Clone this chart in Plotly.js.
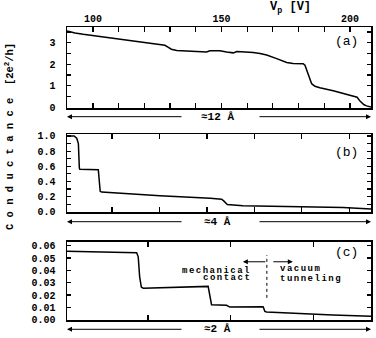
<!DOCTYPE html>
<html>
<head>
<meta charset="utf-8">
<script src="https://cdn.plot.ly/plotly-3.0.1.min.js"></script>
<style>html,body{margin:0;padding:0;background:#fff;}</style>
</head>
<body>
<div id="chart" style="width:376px;height:338px;"></div>
<script>
// Panel (a): conductance vs piezo voltage Vp [V]
const vpA = [89.9, 93, 96.2, 100, 102.7, 109.2, 115.7, 119.6, 126.1, 128.0, 129.2, 130.5, 132.6, 136.5, 141.6, 144.2, 145.5, 149.4, 152.0, 154.6, 156.0, 159.0, 162.4, 165.0, 167.6, 171.5, 175.4, 177.9, 181.8, 182.5, 183.8, 185.1, 186.4, 188.3, 193.5, 198.7, 202.8, 204.0, 205.5, 206.5, 208.2];
const gA  = [3.55, 3.45, 3.39, 3.33, 3.28, 3.18, 3.08, 3.00, 2.90, 2.88, 2.80, 2.70, 2.64, 2.62, 2.61, 2.57, 2.63, 2.63, 2.57, 2.53, 2.59, 2.58, 2.55, 2.50, 2.43, 2.26, 2.08, 2.04, 2.03, 1.96, 1.50, 1.10, 0.98, 0.91, 0.77, 0.62, 0.47, 0.28, 0.12, 0.07, 0.02];

// Panel (b): displacement (arbitrary tick units, ~4 Å full width)
const xB = [0.05, 0.20, 0.255, 0.29, 0.31, 0.32, 0.71, 0.75, 0.78, 2.01, 3.07, 3.31, 3.36, 3.43, 3.76, 5.18, 5.87, 6.46];
const gB = [1.0, 1.0, 0.97, 0.90, 0.58, 0.56, 0.555, 0.27, 0.26, 0.21, 0.18, 0.165, 0.14, 0.095, 0.08, 0.066, 0.056, 0.035];

// Panel (c): displacement (arbitrary tick units, ~2 Å full width)
const xC = [0.024, 0.864, 0.883, 0.90, 0.92, 0.943, 1.726, 1.747, 1.767, 1.948, 1.988, 2.389, 2.41, 2.43, 2.83, 3.23, 3.69];
const gC = [0.0556, 0.0543, 0.051, 0.035, 0.0264, 0.0255, 0.0270, 0.020, 0.0121, 0.0116, 0.0102, 0.0104, 0.0067, 0.0062, 0.0048, 0.0038, 0.0027];

// Text labels
const panelLabels = ['(a)', '(b)', '(c)'];
const spanLabels = ['≈12 Å', '≈4 Å', '≈2 Å'];
const yTitle = 'C o n d u c t a n c e  [2e<sup>2</sup>/h]';
const xTopTitle = 'V<sub>p</sub> [V]';

const MONO = 'Liberation Mono, DejaVu Sans Mono, monospace';
const tf = {family: MONO, size: 10, color: '#000', weight: 'bold'};
const line = {color: '#000', width: 1.5};

const traces = [
  {x: vpA, y: gA, xaxis: 'x', yaxis: 'y', mode: 'lines', line: line, hoverinfo: 'skip'},
  {x: xB, y: gB, xaxis: 'x2', yaxis: 'y2', mode: 'lines', line: line, hoverinfo: 'skip'},
  {x: xC, y: gC, xaxis: 'x3', yaxis: 'y3', mode: 'lines', line: line, hoverinfo: 'skip'}
];

function ax(extra) {
  return Object.assign({
    showline: true, linecolor: '#000', linewidth: 1.5, mirror: 'ticks',
    ticks: 'inside', tickcolor: '#000', tickwidth: 1.2,
    showgrid: false, zeroline: false, tickfont: tf, fixedrange: true
  }, extra);
}

const arrowRowY = [0.6939, 0.3355, -0.0317];
const annotations = [];
arrowRowY.forEach((yy, i) => {
  annotations.push({xref: 'paper', yref: 'paper', x: 0, y: yy, ax: 116, ay: 0, text: '', showarrow: true,
    arrowhead: 2, arrowsize: 1, arrowwidth: 1, arrowcolor: '#000'});
  annotations.push({xref: 'paper', yref: 'paper', x: 1, y: yy, ax: -113, ay: 0, text: '', showarrow: true,
    arrowhead: 2, arrowsize: 1, arrowwidth: 1, arrowcolor: '#000'});
  annotations.push({xref: 'paper', yref: 'paper', x: 0.4967, y: yy, text: spanLabels[i], showarrow: false,
    xanchor: 'center', yanchor: 'middle', font: {family: MONO, size: 11, color: '#000', weight: 'bold'}});
});
const panelY = [0.952, 0.573, 0.232];
panelLabels.forEach((t, i) => {
  annotations.push({xref: 'paper', yref: 'paper', x: 0.921, y: panelY[i], text: t, showarrow: false,
    xanchor: 'center', yanchor: 'middle', font: {family: MONO, size: 13, color: '#000'}});
});
annotations.push({xref: 'paper', yref: 'paper', x: -0.1875, y: 0.6246, text: yTitle, textangle: -90,
  showarrow: false, xanchor: 'center', yanchor: 'middle', font: {family: MONO, size: 10.5, color: '#000', weight: 'bold'}});
annotations.push({xref: 'paper', yref: 'paper', x: 0.7336, y: 1.0648, text: xTopTitle,
  showarrow: false, xanchor: 'center', yanchor: 'middle', font: {family: MONO, size: 12, color: '#000', weight: 'bold'}});

// Panel (c) inset notes
const noteFont = {family: MONO, size: 9, color: '#000', weight: 'bold'};
const ls = (s) => "<span style='letter-spacing:1.5px'>" + s + "</span>";
annotations.push({xref: 'x3', yref: 'y3', x: 2.265, y: 0.0395, text: ls('mechanical'), showarrow: false, xanchor: 'right', yanchor: 'middle', font: noteFont});
annotations.push({xref: 'x3', yref: 'y3', x: 2.265, y: 0.0336, text: ls('contact'), showarrow: false, xanchor: 'right', yanchor: 'middle', font: noteFont});
annotations.push({xref: 'x3', yref: 'y3', x: 2.566, y: 0.0409, text: ls('vacuum'), showarrow: false, xanchor: 'left', yanchor: 'middle', font: noteFont});
annotations.push({xref: 'x3', yref: 'y3', x: 2.566, y: 0.0333, text: ls('tunneling'), showarrow: false, xanchor: 'left', yanchor: 'middle', font: noteFont});
annotations.push({xref: 'x3', yref: 'y3', axref: 'x3', ayref: 'y3', x: 2.145, y: 0.047, ax: 2.434, ay: 0.047, text: '', showarrow: true,
  arrowhead: 2, arrowsize: 1, arrowwidth: 1, arrowcolor: '#000'});
annotations.push({xref: 'x3', yref: 'y3', axref: 'x3', ayref: 'y3', x: 2.747, y: 0.047, ax: 2.494, ay: 0.047, text: '', showarrow: true,
  arrowhead: 2, arrowsize: 1, arrowwidth: 1, arrowcolor: '#000'});

const layout = {
  width: 376, height: 338,
  margin: {l: 67, r: 5, t: 27, b: 18, pad: 0},
  paper_bgcolor: '#fff', plot_bgcolor: '#fff',
  showlegend: false,
  xaxis: ax({anchor: 'y', side: 'top', range: [89.9, 208.2], tick0: 0, dtick: 50, ticklen: 5,
    minor: {dtick: 10, ticks: 'inside', ticklen: 5, tickcolor: '#000'}}),
  yaxis: ax({domain: [0.7235, 1], anchor: 'x', range: [-0.03, 3.73], tick0: 0, dtick: 1, ticklen: 4,
    ticklabelstandoff: 8, minor: {dtick: 0.5, ticks: 'inside', ticklen: 4, tickcolor: '#000'}}),
  xaxis2: ax({anchor: 'y2', range: [0.05, 6.46], tick0: 0, dtick: 1, ticklen: 5, showticklabels: false}),
  yaxis2: ax({domain: [0.3686, 0.6348], anchor: 'x2', range: [-0.003, 1.026], tick0: 0, dtick: 0.2, tickformat: '.1f',
    ticklen: 4, ticklabelstandoff: 8, minor: {dtick: 0.1, ticks: 'inside', ticklen: 4, tickcolor: '#000'}}),
  xaxis3: ax({anchor: 'y3', range: [0.024, 3.69], tick0: 0, dtick: 1, ticklen: 5, showticklabels: false}),
  yaxis3: ax({domain: [0, 0.2672], anchor: 'x3', range: [-0.0003, 0.0633], tick0: 0, dtick: 0.01, tickformat: '.2f',
    ticklen: 4, ticklabelstandoff: 8}),
  shapes: [{type: 'line', xref: 'x3', yref: 'y3', x0: 2.434, x1: 2.434, y0: 0.0177, y1: 0.0524,
    line: {color: '#000', width: 1, dash: 'dot'}}],
  annotations: annotations
};

Plotly.newPlot('chart', traces, layout, {staticPlot: true, displayModeBar: false});
</script>
</body>
</html>
